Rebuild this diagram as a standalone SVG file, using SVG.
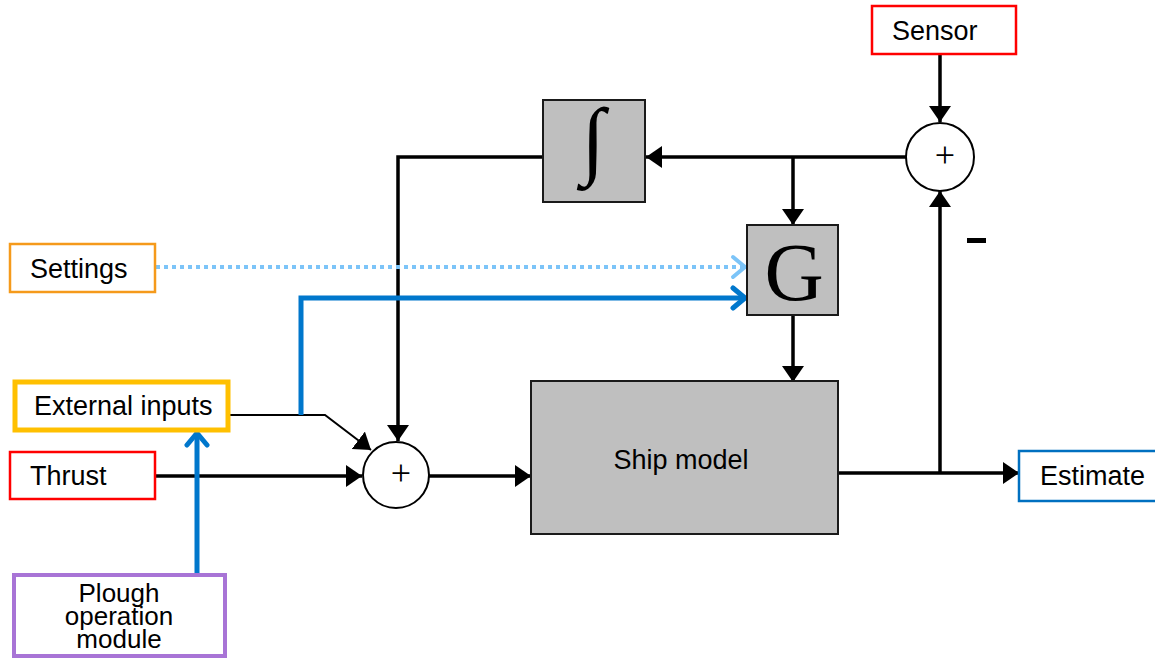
<svg xmlns="http://www.w3.org/2000/svg" width="1155" height="658" viewBox="0 0 1155 658">
<defs>
<style>
.lbl{font-family:"Liberation Sans",Arial,sans-serif;font-size:27px;fill:#000}
.blk{fill:#BFBFBF;stroke:#1a1a1a;stroke-width:2}
.wire{fill:none;stroke:#000;stroke-width:3.5}
.sum{fill:#fff;stroke:#000;stroke-width:2}
.plus{font-family:"Liberation Serif","Times New Roman",serif;font-size:36px;fill:#000}
</style>
<marker id="ah" markerUnits="userSpaceOnUse" markerWidth="18" markerHeight="24" refX="16" refY="11" orient="auto">
<path d="M0,0 L16,11 L0,22 z" fill="#000"/>
</marker>
<marker id="bh" markerUnits="userSpaceOnUse" markerWidth="24" markerHeight="26" refX="15" refY="13" orient="auto">
<path d="M3,3 L15,13 L3,23" fill="none" stroke="#0077CC" stroke-width="5" stroke-linecap="round" stroke-linejoin="round"/>
</marker>
<marker id="lbh" markerUnits="userSpaceOnUse" markerWidth="24" markerHeight="26" refX="15" refY="13" orient="auto">
<path d="M3,3 L15,13 L3,23" fill="none" stroke="#7CC4F8" stroke-width="4" stroke-linecap="round" stroke-linejoin="round"/>
</marker>
</defs>
<rect width="1155" height="658" fill="#fff"/>

<g id="connectors">
<path class="wire" d="M543,157 H398 V441" marker-end="url(#ah)"/>
<path class="wire" d="M906,157 H646" marker-end="url(#ah)"/>
<path class="wire" d="M793,157 V225" marker-end="url(#ah)"/>
<path class="wire" d="M793,316 V382" marker-end="url(#ah)"/>
<path class="wire" d="M940,54 V122" marker-end="url(#ah)"/>
<path class="wire" d="M155,476 H362" marker-end="url(#ah)"/>
<path class="wire" d="M429,476 H531" marker-end="url(#ah)"/>
<path class="wire" d="M838,473 H1019" marker-end="url(#ah)"/>
<path class="wire" d="M940,473 V191" marker-end="url(#ah)"/>
<path fill="none" stroke="#000" stroke-width="2" d="M229,415 H325 L371,450" marker-end="url(#ah)"/>
<path fill="none" stroke="#0077CC" stroke-width="5" d="M301,415 V298 H745" marker-end="url(#bh)"/>
<path fill="none" stroke="#0077CC" stroke-width="5" d="M197,574 V433" marker-end="url(#bh)"/>
<path fill="none" stroke="#7CC4F8" stroke-width="4" stroke-dasharray="4 4" d="M156,267 H745" marker-end="url(#lbh)"/>
</g>

<g id="settings">
<rect x="10" y="244" width="145" height="48" fill="#fff" stroke="#F59A1B" stroke-width="2.5"/>
<text class="lbl" x="30" y="278">Settings</text>
</g>
<g id="external-inputs">
<rect x="15" y="382" width="213" height="48" fill="#fff" stroke="#FFC000" stroke-width="5"/>
<text class="lbl" x="34" y="415">External inputs</text>
</g>
<g id="thrust">
<rect x="10" y="452" width="145" height="47" fill="#fff" stroke="#FF0000" stroke-width="2.5"/>
<text class="lbl" x="30" y="485">Thrust</text>
</g>
<g id="plough">
<rect x="14" y="575" width="211" height="81" fill="#fff" stroke="#A874D6" stroke-width="4"/>
<text class="lbl" text-anchor="middle" x="119" y="602" style="font-size:26px">Plough</text>
<text class="lbl" text-anchor="middle" x="119" y="625" style="font-size:26px">operation</text>
<text class="lbl" text-anchor="middle" x="119" y="648" style="font-size:26px">module</text>
</g>
<g id="sum1">
<circle class="sum" cx="396" cy="475" r="33"/>
<text class="plus" x="401" y="485" text-anchor="middle">+</text>
</g>
<g id="integrator">
<rect class="blk" x="543" y="100" width="102" height="102"/>
<text x="593" y="168" text-anchor="middle" font-family="'Liberation Serif','Times New Roman',serif" font-size="86">∫</text>
</g>
<g id="g-block">
<rect class="blk" x="747" y="225" width="91" height="90"/>
<text x="794" y="300" text-anchor="middle" font-family="'Liberation Serif','Times New Roman',serif" font-size="82">G</text>
</g>
<g id="ship-model">
<rect class="blk" x="531" y="381" width="307" height="153"/>
<text class="lbl" x="681" y="469" text-anchor="middle">Ship model</text>
</g>
<g id="sum2">
<circle class="sum" cx="940" cy="157" r="34"/>
<text class="plus" x="945" y="167" text-anchor="middle">+</text>
</g>
<g id="sensor">
<rect x="872" y="6" width="144" height="48" fill="#fff" stroke="#FF0000" stroke-width="2.5"/>
<text class="lbl" x="892" y="40">Sensor</text>
</g>
<g id="estimate">
<rect x="1019" y="451" width="140" height="50" fill="#fff" stroke="#0070C0" stroke-width="2.5"/>
<text class="lbl" x="1040" y="485">Estimate</text>
</g>
<g id="minus-sign">
<rect x="967" y="238" width="19" height="5" fill="#000"/>
</g>
</svg>
